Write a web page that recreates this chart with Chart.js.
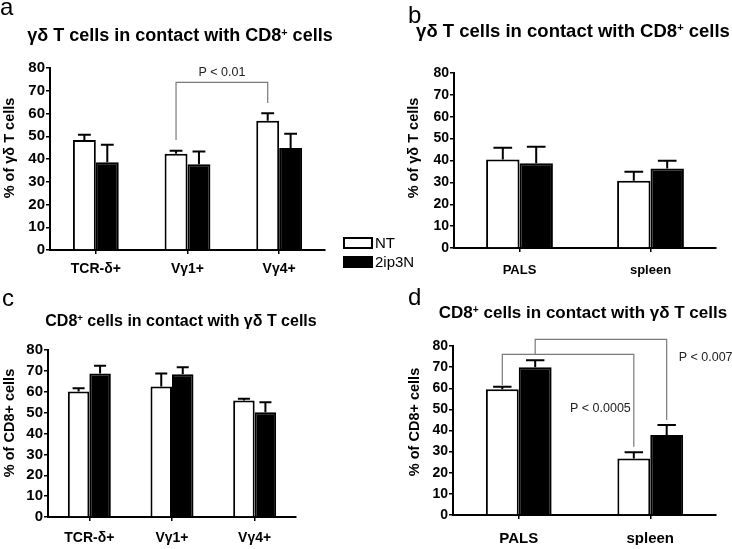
<!DOCTYPE html>
<html>
<head>
<meta charset="utf-8">
<script src="https://cdn.jsdelivr.net/npm/chart.js@4.4.0/dist/chart.umd.min.js"></script>
<style>
  body { margin: 0; background: #fff; }
  #fig { position: relative; width: 732px; height: 549px; overflow: hidden;
         font-family: "Liberation Sans", Arial, sans-serif; color: #000; }
  #fig canvas { position: absolute; }
  .t { position: absolute; white-space: nowrap; line-height: 1; }
  .letter { font-size: 24px; }
  .title { font-weight: bold; transform: translateX(-50%); }
  .ytitle { font-weight: bold; font-size: 14.5px; transform: translate(-50%, -50%) rotate(-90deg); }
  .sup { font-size: 60%; vertical-align: 0.5em; }
  .box { position: absolute; box-sizing: border-box; width: 30px; height: 12px; border: 2px solid #000; }
  .leg { font-size: 15px; }
</style>
</head>
<body>
<div id="fig">
  <canvas id="cA" width="340" height="290" style="left:0px;top:0px"></canvas>
  <canvas id="cB" width="332" height="290" style="left:400px;top:0px"></canvas>
  <canvas id="cC" width="340" height="269" style="left:0px;top:280px"></canvas>
  <canvas id="cD" width="332" height="269" style="left:400px;top:280px"></canvas>

  <div class="t letter" style="left:0px;top:-5px">a</div>
  <div class="t letter" style="left:408px;top:3px">b</div>
  <div class="t letter" style="left:2px;top:286px">c</div>
  <div class="t letter" style="left:408px;top:285px">d</div>

  <div class="t title" style="left:180px;top:26px;font-size:18px">γδ T cells in contact with CD8<span class="sup">+</span> cells</div>
  <div class="t title" style="left:573px;top:22px;font-size:18.5px">γδ T cells in contact with CD8<span class="sup">+</span> cells</div>
  <div class="t title" style="left:181px;top:313px;font-size:16px">CD8<span class="sup">+</span> cells in contact with γδ T cells</div>
  <div class="t title" style="left:583px;top:304px;font-size:17px">CD8<span class="sup">+</span> cells in contact with γδ T cells</div>

  <div class="t ytitle" style="left:9px;top:148px">% of γδ T cells</div>
  <div class="t ytitle" style="left:413px;top:148px">% of γδ T cells</div>
  <div class="t ytitle" style="left:9px;top:423px">% of CD8+ cells</div>
  <div class="t ytitle" style="left:414px;top:422px">% of CD8+ cells</div>

  <div class="box" style="left:343px;top:237px;background:#fff"></div>
  <div class="box" style="left:343px;top:256px;background:#000"></div>
  <div class="t leg" style="left:375px;top:235px">NT</div>
  <div class="t leg" style="left:375px;top:254px">2ip3N</div>
</div>

<script>
// categories
var subsets = ['TCR-δ+', 'Vγ1+', 'Vγ4+'];
var sites = ['PALS', 'spleen'];
var yTicks = [0, 10, 20, 30, 40, 50, 60, 70, 80];

// a: γδ T cells touching CD8+ cells, by subset
var ntA = [48.4, 42.3, 56.8];
var ntErrA = [2.3, 1.3, 3.3];
var ipA = [38.6, 37.7, 44.8];
var ipErrA = [7.7, 5.6, 6.3];

// b: γδ T cells touching CD8+ cells, by site
var ntB = [40.5, 30.7];
var ntErrB = [5.3, 4.2];
var ipB = [38.7, 36.4];
var ipErrB = [7.6, 3.5];

// c: CD8+ cells touching γδ T cells, by subset
var ntC = [60.1, 62.5, 55.8];
var ntErrC = [1.6, 6.3, 0.8];
var ipC = [68.8, 68.4, 50.2];
var ipErrC = [3.6, 3.3, 4.8];

// d: CD8+ cells touching γδ T cells, by site
var ntD = [59.5, 26.8];
var ntErrD = [1.2, 2.9];
var ipD = [69.9, 37.9];
var ipErrD = [3.4, 4.7];

Chart.defaults.font.family = '"Liberation Sans", Arial, sans-serif';
Chart.defaults.color = '#000';

// error bars, upper side only
var errorBars = {
    id: 'errorBars',
    afterDatasetsDraw: function (chart) {
        var ctx = chart.ctx, y = chart.scales.y;
        ctx.save();
        ctx.strokeStyle = '#000';
        ctx.lineWidth = 2;
        chart.data.datasets.forEach(function (ds, d) {
            chart.getDatasetMeta(d).data.forEach(function (bar, i) {
                var top = y.getPixelForValue(ds.data[i] + ds.err[i]);
                var half = bar.width * 0.28;
                ctx.beginPath();
                ctx.moveTo(bar.x, bar.y);
                ctx.lineTo(bar.x, top);
                ctx.moveTo(bar.x - half, top);
                ctx.lineTo(bar.x + half, top);
                ctx.stroke();
            });
        });
        ctx.restore();
    }
};

// significance brackets
var brackets = {
    id: 'brackets',
    afterDraw: function (chart, args, opts) {
        var ctx = chart.ctx, y = chart.scales.y;
        ctx.save();
        ctx.strokeStyle = '#7a7a7a';
        ctx.lineWidth = 1.2;
        ctx.fillStyle = '#222';
        ctx.font = '12.5px "Liberation Sans", Arial, sans-serif';
        ctx.textBaseline = 'middle';
        (opts.items || []).forEach(function (b) {
            var x1 = chart.getDatasetMeta(b.from[1]).data[b.from[0]].x;
            var x2 = chart.getDatasetMeta(b.to[1]).data[b.to[0]].x;
            var yt = y.getPixelForValue(b.top);
            ctx.beginPath();
            ctx.moveTo(x1, y.getPixelForValue(b.y1));
            ctx.lineTo(x1, yt);
            ctx.lineTo(x2, yt);
            ctx.lineTo(x2, y.getPixelForValue(b.y2));
            ctx.stroke();
            var tx;
            if (b.align == 'center') { tx = (x1 + x2) / 2; }
            else { tx = x2 + b.dx; }
            ctx.textAlign = b.align;
            ctx.fillText(b.text, tx, y.getPixelForValue(b.textY));
        });
        ctx.restore();
    }
};

function panel(id, cats, nt, ntErr, ip, ipErr, p) {
    return new Chart(document.getElementById(id), {
        type: 'bar',
        data: {
            labels: cats,
            datasets: [
                { label: 'NT', data: nt, err: ntErr, backgroundColor: '#fff', borderColor: '#000', borderWidth: 2 },
                { label: '2ip3N', data: ip, err: ipErr, backgroundColor: '#000', borderColor: '#000', borderWidth: 2 }
            ]
        },
        options: {
            responsive: false,
            animation: false,
            layout: { padding: { top: p.top, right: p.right, bottom: p.bottom, left: 0 } },
            datasets: { bar: { barPercentage: 1, categoryPercentage: p.cat } },
            plugins: {
                legend: { display: false },
                tooltip: { enabled: false },
                brackets: { items: p.brackets || [] }
            },
            scales: {
                x: {
                    grid: { drawOnChartArea: false, offset: false, color: '#000', lineWidth: 1.5, tickLength: 4 },
                    border: { color: '#000', width: 2 },
                    ticks: { font: { size: p.xFont, weight: 'bold' }, padding: p.xPad, maxRotation: 0, autoSkip: false },
                    afterFit: function (s) { s.height = 30; }
                },
                y: {
                    min: 0,
                    max: 80,
                    afterBuildTicks: function (s) { s.ticks = yTicks.map(function (v) { return { value: v }; }); },
                    grid: { drawOnChartArea: false, color: '#000', lineWidth: 1.5, tickLength: 4 },
                    border: { color: '#000', width: 2 },
                    ticks: { font: { size: p.yFont, weight: 'bold' }, padding: 1, autoSkip: false },
                    afterFit: function (s) { s.width = p.yw; }
                }
            }
        },
        plugins: [errorBars, brackets]
    });
}

panel('cA', subsets, ntA, ntErrA, ipA, ipErrA, {
    top: 68, right: 15, bottom: 10, yw: 50, cat: 0.5, xFont: 14, xPad: 7, yFont: 15,
    brackets: [{ from: [1, 0], to: [2, 0], y1: 48.4, top: 73.7, y2: 64.6, text: 'P < 0.01', align: 'center', textY: 78 }]
});
panel('cB', sites, ntB, ntErrB, ipB, ipErrB, {
    top: 73, right: 16, bottom: 12, yw: 54, cat: 0.51, xFont: 13, xPad: 11, yFont: 14
});
panel('cC', subsets, ntC, ntErrC, ipC, ipErrC, {
    top: 70, right: 44, bottom: 2, yw: 48, cat: 0.52, xFont: 14, xPad: 9, yFont: 15
});
panel('cD', sites, ntD, ntErrD, ipD, ipErrD, {
    top: 66, right: 16, bottom: 4, yw: 53, cat: 0.5, xFont: 15, xPad: 11, yFont: 14,
    brackets: [
        { from: [0, 0], to: [1, 0], y1: 61.5, top: 76.0, y2: 32.3, text: 'P < 0.0005', align: 'right', dx: -3, textY: 50.5 },
        { from: [0, 1], to: [1, 1], y1: 76.0, top: 83.1, y2: 45.0, text: 'P < 0.007', align: 'left', dx: 12, textY: 74.3 }
    ]
});
</script>
</body>
</html>
